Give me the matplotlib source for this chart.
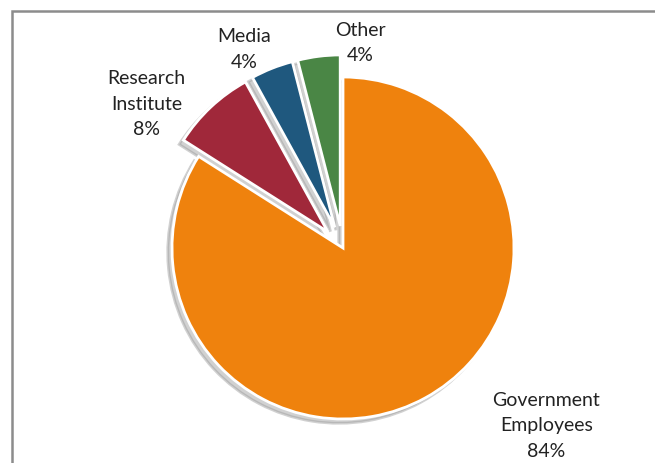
import matplotlib.pyplot as plt
from matplotlib.patches import Rectangle

# dados do grafico
categorias = ["Government\nEmployees", "Research\nInstitute", "Media", "Other"]
valores = [84, 8, 4, 4]
cores = ["#EF820D", "#A0283A", "#1F587E", "#4A8645"]
explodir = [0, 0.13, 0.13, 0.13]
# posicao dos rotulos (distancia do centro, em raios)
pos_rotulos = [(1.19, -1.04), (-1.15, 0.84), (-0.58, 1.16), (0.10, 1.20)]

plt.rcParams['font.family'] = ['Lato', 'DejaVu Sans']

fig = plt.figure(figsize=(6.55, 4.63), dpi=100)
ax = fig.add_axes([0, 0, 1, 1])

wedges, _ = ax.pie(valores, colors=cores, explode=explodir, startangle=90,
                   counterclock=False,
                   wedgeprops={'edgecolor': 'white', 'linewidth': 2},
                   shadow={'ox': -0.018, 'oy': -0.018, 'facecolor': '#9A9A9A',
                           'edgecolor': '#9A9A9A', 'alpha': 0.45})

for cat, v, (x, y) in zip(categorias, valores, pos_rotulos):
    ax.text(x, y, f"{cat}\n{v}%", ha='center', va='center', fontsize=14,
            color='#222222', linespacing=1.6)

# centro do pie em (343, 248) px, raio ~171 px
raio = 171
ax.set_aspect('auto')
ax.set_xlim(-343 / raio, (655 - 343) / raio)
ax.set_ylim(-(463 - 248) / raio, 248 / raio)
ax.axis('off')

# moldura cinza
fig.patches.append(Rectangle((12 / 655, -0.1), 1.2, 1 - 11 / 463 + 0.1,
                             transform=fig.transFigure, fill=False,
                             edgecolor='#8C8C8C', linewidth=1.8))

fig.savefig("out.png", dpi=100)
